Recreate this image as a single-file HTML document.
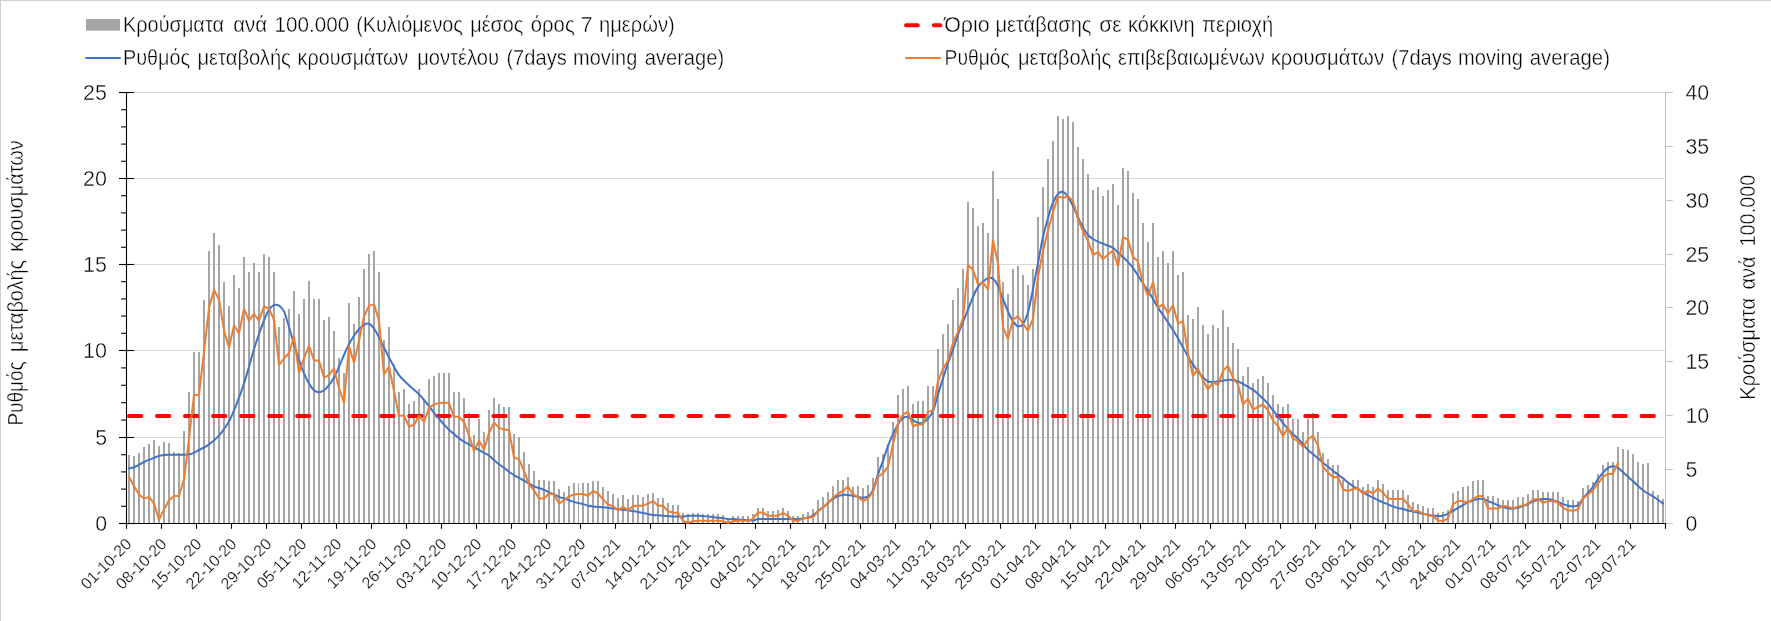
<!DOCTYPE html>
<html><head><meta charset="utf-8"><title>Chart</title>
<style>
html,body{margin:0;padding:0;background:#fff;}
body{width:1771px;height:621px;overflow:hidden;position:relative;font-family:"Liberation Sans",sans-serif;}
</style></head><body>
<svg width="1771" height="621" viewBox="0 0 1771 621" style="position:absolute;left:0;top:0;opacity:0.999;will-change:transform">
<defs>
<clipPath id="cl"><rect x="0" y="0" width="579" height="621"/></clipPath>
<clipPath id="cr"><rect x="579" y="0" width="1192" height="621"/></clipPath>
<g id="plot">
<line x1="126.5" y1="437.5" x2="1666.5" y2="437.5" stroke="#d9d9d9" stroke-width="1"/>
<line x1="126.5" y1="350.5" x2="1666.5" y2="350.5" stroke="#d9d9d9" stroke-width="1"/>
<line x1="126.5" y1="264.5" x2="1666.5" y2="264.5" stroke="#d9d9d9" stroke-width="1"/>
<line x1="126.5" y1="178.5" x2="1666.5" y2="178.5" stroke="#d9d9d9" stroke-width="1"/>
<line x1="126.5" y1="92.5" x2="1666.5" y2="92.5" stroke="#d9d9d9" stroke-width="1"/>
<g fill="#a5a5a5" shape-rendering="crispEdges">
<rect x="128" y="455" width="2" height="68"/>
<rect x="133" y="456" width="2" height="67"/>
<rect x="138" y="453" width="2" height="70"/>
<rect x="143" y="447" width="2" height="76"/>
<rect x="148" y="444" width="2" height="79"/>
<rect x="153" y="440" width="2" height="83"/>
<rect x="158" y="446" width="2" height="77"/>
<rect x="163" y="442" width="2" height="81"/>
<rect x="168" y="443" width="2" height="80"/>
<rect x="173" y="452" width="2" height="71"/>
<rect x="178" y="453" width="2" height="70"/>
<rect x="183" y="431" width="2" height="92"/>
<rect x="188" y="392" width="2" height="131"/>
<rect x="193" y="352" width="2" height="171"/>
<rect x="198" y="352" width="2" height="171"/>
<rect x="203" y="300" width="2" height="223"/>
<rect x="208" y="251" width="2" height="272"/>
<rect x="213" y="233" width="2" height="290"/>
<rect x="218" y="245" width="2" height="278"/>
<rect x="223" y="282" width="2" height="241"/>
<rect x="228" y="306" width="2" height="217"/>
<rect x="233" y="275" width="2" height="248"/>
<rect x="238" y="288" width="2" height="235"/>
<rect x="243" y="257" width="2" height="266"/>
<rect x="248" y="272" width="2" height="251"/>
<rect x="253" y="263" width="2" height="260"/>
<rect x="258" y="272" width="2" height="251"/>
<rect x="263" y="254" width="2" height="269"/>
<rect x="268" y="257" width="2" height="266"/>
<rect x="273" y="272" width="2" height="251"/>
<rect x="278" y="327" width="2" height="196"/>
<rect x="283" y="318" width="2" height="205"/>
<rect x="288" y="309" width="2" height="214"/>
<rect x="293" y="291" width="2" height="232"/>
<rect x="298" y="314" width="2" height="209"/>
<rect x="303" y="299" width="2" height="224"/>
<rect x="308" y="281" width="2" height="242"/>
<rect x="313" y="299" width="2" height="224"/>
<rect x="318" y="299" width="2" height="224"/>
<rect x="323" y="320" width="2" height="203"/>
<rect x="328" y="317" width="2" height="206"/>
<rect x="333" y="331" width="2" height="192"/>
<rect x="338" y="358" width="2" height="165"/>
<rect x="343" y="373" width="2" height="150"/>
<rect x="348" y="303" width="2" height="220"/>
<rect x="353" y="324" width="2" height="199"/>
<rect x="358" y="297" width="2" height="226"/>
<rect x="363" y="269" width="2" height="254"/>
<rect x="368" y="254" width="2" height="269"/>
<rect x="373" y="251" width="2" height="272"/>
<rect x="378" y="272" width="2" height="251"/>
<rect x="383" y="340" width="2" height="183"/>
<rect x="388" y="327" width="2" height="196"/>
<rect x="393" y="364" width="2" height="159"/>
<rect x="398" y="392" width="2" height="131"/>
<rect x="403" y="389" width="2" height="134"/>
<rect x="408" y="404" width="2" height="119"/>
<rect x="413" y="401" width="2" height="122"/>
<rect x="418" y="389" width="2" height="134"/>
<rect x="423" y="399" width="2" height="124"/>
<rect x="428" y="379" width="2" height="144"/>
<rect x="433" y="376" width="2" height="147"/>
<rect x="438" y="373" width="2" height="150"/>
<rect x="443" y="373" width="2" height="150"/>
<rect x="448" y="373" width="2" height="150"/>
<rect x="453" y="392" width="2" height="131"/>
<rect x="458" y="392" width="2" height="131"/>
<rect x="463" y="398" width="2" height="125"/>
<rect x="468" y="413" width="2" height="110"/>
<rect x="473" y="435" width="2" height="88"/>
<rect x="478" y="419" width="2" height="104"/>
<rect x="483" y="432" width="2" height="91"/>
<rect x="488" y="410" width="2" height="113"/>
<rect x="493" y="398" width="2" height="125"/>
<rect x="498" y="404" width="2" height="119"/>
<rect x="503" y="407" width="2" height="116"/>
<rect x="508" y="407" width="2" height="116"/>
<rect x="513" y="434" width="2" height="89"/>
<rect x="518" y="437" width="2" height="86"/>
<rect x="523" y="452" width="2" height="71"/>
<rect x="528" y="464" width="2" height="59"/>
<rect x="533" y="471" width="2" height="52"/>
<rect x="538" y="480" width="2" height="43"/>
<rect x="543" y="480" width="2" height="43"/>
<rect x="548" y="481" width="2" height="42"/>
<rect x="553" y="481" width="2" height="42"/>
<rect x="558" y="489" width="2" height="34"/>
<rect x="563" y="492" width="2" height="31"/>
<rect x="568" y="486" width="2" height="37"/>
<rect x="573" y="483" width="2" height="40"/>
<rect x="578" y="483" width="2" height="40"/>
<rect x="583" y="483" width="2" height="40"/>
<rect x="588" y="483" width="2" height="40"/>
<rect x="593" y="481" width="2" height="42"/>
<rect x="598" y="481" width="2" height="42"/>
<rect x="603" y="487" width="2" height="36"/>
<rect x="608" y="491" width="2" height="32"/>
<rect x="613" y="494" width="2" height="29"/>
<rect x="618" y="498" width="2" height="25"/>
<rect x="623" y="495" width="2" height="28"/>
<rect x="628" y="499" width="2" height="24"/>
<rect x="633" y="495" width="2" height="28"/>
<rect x="638" y="495" width="2" height="28"/>
<rect x="643" y="497" width="2" height="26"/>
<rect x="648" y="494" width="2" height="29"/>
<rect x="653" y="493" width="2" height="30"/>
<rect x="658" y="498" width="2" height="25"/>
<rect x="663" y="498" width="2" height="25"/>
<rect x="668" y="503" width="2" height="20"/>
<rect x="673" y="505" width="2" height="18"/>
<rect x="678" y="505" width="2" height="18"/>
<rect x="683" y="513" width="2" height="10"/>
<rect x="688" y="514" width="2" height="9"/>
<rect x="693" y="513" width="2" height="10"/>
<rect x="698" y="513" width="2" height="10"/>
<rect x="703" y="514" width="2" height="9"/>
<rect x="708" y="514" width="2" height="9"/>
<rect x="713" y="514" width="2" height="9"/>
<rect x="718" y="514" width="2" height="9"/>
<rect x="723" y="515" width="2" height="8"/>
<rect x="728" y="518" width="2" height="5"/>
<rect x="733" y="516" width="2" height="7"/>
<rect x="738" y="516" width="2" height="7"/>
<rect x="743" y="516" width="2" height="7"/>
<rect x="748" y="516" width="2" height="7"/>
<rect x="753" y="514" width="2" height="9"/>
<rect x="758" y="508" width="2" height="15"/>
<rect x="763" y="508" width="2" height="15"/>
<rect x="768" y="511" width="2" height="12"/>
<rect x="773" y="511" width="2" height="12"/>
<rect x="778" y="510" width="2" height="13"/>
<rect x="783" y="508" width="2" height="15"/>
<rect x="788" y="511" width="2" height="12"/>
<rect x="793" y="516" width="2" height="7"/>
<rect x="798" y="516" width="2" height="7"/>
<rect x="803" y="514" width="2" height="9"/>
<rect x="808" y="512" width="2" height="11"/>
<rect x="813" y="509" width="2" height="14"/>
<rect x="818" y="500" width="2" height="23"/>
<rect x="823" y="497" width="2" height="26"/>
<rect x="828" y="492" width="2" height="31"/>
<rect x="833" y="486" width="2" height="37"/>
<rect x="838" y="480" width="2" height="43"/>
<rect x="843" y="480" width="2" height="43"/>
<rect x="848" y="477" width="2" height="46"/>
<rect x="853" y="487" width="2" height="36"/>
<rect x="858" y="486" width="2" height="37"/>
<rect x="863" y="488" width="2" height="35"/>
<rect x="868" y="485" width="2" height="38"/>
<rect x="873" y="478" width="2" height="45"/>
<rect x="878" y="457" width="2" height="66"/>
<rect x="883" y="454" width="2" height="69"/>
<rect x="888" y="444" width="2" height="79"/>
<rect x="893" y="422" width="2" height="101"/>
<rect x="898" y="395" width="2" height="128"/>
<rect x="903" y="389" width="2" height="134"/>
<rect x="908" y="386" width="2" height="137"/>
<rect x="913" y="404" width="2" height="119"/>
<rect x="918" y="401" width="2" height="122"/>
<rect x="923" y="401" width="2" height="122"/>
<rect x="928" y="386" width="2" height="137"/>
<rect x="933" y="386" width="2" height="137"/>
<rect x="938" y="349" width="2" height="174"/>
<rect x="943" y="334" width="2" height="189"/>
<rect x="948" y="324" width="2" height="199"/>
<rect x="953" y="300" width="2" height="223"/>
<rect x="958" y="288" width="2" height="235"/>
<rect x="963" y="269" width="2" height="254"/>
<rect x="968" y="202" width="2" height="321"/>
<rect x="973" y="208" width="2" height="315"/>
<rect x="978" y="226" width="2" height="297"/>
<rect x="983" y="223" width="2" height="300"/>
<rect x="988" y="233" width="2" height="290"/>
<rect x="993" y="171" width="2" height="352"/>
<rect x="998" y="199" width="2" height="324"/>
<rect x="1003" y="282" width="2" height="241"/>
<rect x="1008" y="294" width="2" height="229"/>
<rect x="1013" y="269" width="2" height="254"/>
<rect x="1018" y="266" width="2" height="257"/>
<rect x="1023" y="275" width="2" height="248"/>
<rect x="1028" y="285" width="2" height="238"/>
<rect x="1033" y="269" width="2" height="254"/>
<rect x="1038" y="217" width="2" height="306"/>
<rect x="1043" y="187" width="2" height="336"/>
<rect x="1048" y="159" width="2" height="364"/>
<rect x="1053" y="141" width="2" height="382"/>
<rect x="1058" y="116" width="2" height="407"/>
<rect x="1063" y="119" width="2" height="404"/>
<rect x="1068" y="116" width="2" height="407"/>
<rect x="1073" y="122" width="2" height="401"/>
<rect x="1078" y="147" width="2" height="376"/>
<rect x="1083" y="159" width="2" height="364"/>
<rect x="1088" y="174" width="2" height="349"/>
<rect x="1093" y="190" width="2" height="333"/>
<rect x="1098" y="187" width="2" height="336"/>
<rect x="1103" y="196" width="2" height="327"/>
<rect x="1108" y="190" width="2" height="333"/>
<rect x="1113" y="184" width="2" height="339"/>
<rect x="1118" y="205" width="2" height="318"/>
<rect x="1123" y="168" width="2" height="355"/>
<rect x="1128" y="171" width="2" height="352"/>
<rect x="1133" y="193" width="2" height="330"/>
<rect x="1138" y="199" width="2" height="324"/>
<rect x="1143" y="223" width="2" height="300"/>
<rect x="1148" y="242" width="2" height="281"/>
<rect x="1153" y="223" width="2" height="300"/>
<rect x="1158" y="257" width="2" height="266"/>
<rect x="1163" y="251" width="2" height="272"/>
<rect x="1168" y="263" width="2" height="260"/>
<rect x="1173" y="251" width="2" height="272"/>
<rect x="1178" y="275" width="2" height="248"/>
<rect x="1183" y="272" width="2" height="251"/>
<rect x="1188" y="315" width="2" height="208"/>
<rect x="1193" y="319" width="2" height="204"/>
<rect x="1198" y="307" width="2" height="216"/>
<rect x="1203" y="325" width="2" height="198"/>
<rect x="1208" y="334" width="2" height="189"/>
<rect x="1213" y="325" width="2" height="198"/>
<rect x="1218" y="328" width="2" height="195"/>
<rect x="1223" y="310" width="2" height="213"/>
<rect x="1228" y="327" width="2" height="196"/>
<rect x="1233" y="343" width="2" height="180"/>
<rect x="1238" y="349" width="2" height="174"/>
<rect x="1243" y="376" width="2" height="147"/>
<rect x="1248" y="367" width="2" height="156"/>
<rect x="1253" y="383" width="2" height="140"/>
<rect x="1258" y="379" width="2" height="144"/>
<rect x="1263" y="376" width="2" height="147"/>
<rect x="1268" y="383" width="2" height="140"/>
<rect x="1273" y="395" width="2" height="128"/>
<rect x="1278" y="404" width="2" height="119"/>
<rect x="1283" y="407" width="2" height="116"/>
<rect x="1288" y="404" width="2" height="119"/>
<rect x="1293" y="419" width="2" height="104"/>
<rect x="1298" y="419" width="2" height="104"/>
<rect x="1303" y="432" width="2" height="91"/>
<rect x="1308" y="419" width="2" height="104"/>
<rect x="1313" y="413" width="2" height="110"/>
<rect x="1318" y="432" width="2" height="91"/>
<rect x="1323" y="453" width="2" height="70"/>
<rect x="1328" y="459" width="2" height="64"/>
<rect x="1333" y="465" width="2" height="58"/>
<rect x="1338" y="465" width="2" height="58"/>
<rect x="1343" y="480" width="2" height="43"/>
<rect x="1348" y="484" width="2" height="39"/>
<rect x="1353" y="480" width="2" height="43"/>
<rect x="1358" y="480" width="2" height="43"/>
<rect x="1363" y="487" width="2" height="36"/>
<rect x="1368" y="484" width="2" height="39"/>
<rect x="1373" y="487" width="2" height="36"/>
<rect x="1378" y="480" width="2" height="43"/>
<rect x="1383" y="484" width="2" height="39"/>
<rect x="1388" y="490" width="2" height="33"/>
<rect x="1393" y="490" width="2" height="33"/>
<rect x="1398" y="490" width="2" height="33"/>
<rect x="1403" y="490" width="2" height="33"/>
<rect x="1408" y="495" width="2" height="28"/>
<rect x="1413" y="502" width="2" height="21"/>
<rect x="1418" y="504" width="2" height="19"/>
<rect x="1423" y="506" width="2" height="17"/>
<rect x="1428" y="508" width="2" height="15"/>
<rect x="1433" y="508" width="2" height="15"/>
<rect x="1438" y="513" width="2" height="10"/>
<rect x="1443" y="512" width="2" height="11"/>
<rect x="1448" y="510" width="2" height="13"/>
<rect x="1453" y="493" width="2" height="30"/>
<rect x="1458" y="491" width="2" height="32"/>
<rect x="1463" y="487" width="2" height="36"/>
<rect x="1468" y="486" width="2" height="37"/>
<rect x="1473" y="481" width="2" height="42"/>
<rect x="1478" y="480" width="2" height="43"/>
<rect x="1483" y="480" width="2" height="43"/>
<rect x="1488" y="496" width="2" height="27"/>
<rect x="1493" y="496" width="2" height="27"/>
<rect x="1498" y="498" width="2" height="25"/>
<rect x="1503" y="500" width="2" height="23"/>
<rect x="1508" y="500" width="2" height="23"/>
<rect x="1513" y="500" width="2" height="23"/>
<rect x="1518" y="497" width="2" height="26"/>
<rect x="1523" y="497" width="2" height="26"/>
<rect x="1528" y="494" width="2" height="29"/>
<rect x="1533" y="490" width="2" height="33"/>
<rect x="1538" y="490" width="2" height="33"/>
<rect x="1543" y="492" width="2" height="31"/>
<rect x="1548" y="492" width="2" height="31"/>
<rect x="1553" y="492" width="2" height="31"/>
<rect x="1558" y="492" width="2" height="31"/>
<rect x="1563" y="497" width="2" height="26"/>
<rect x="1568" y="500" width="2" height="23"/>
<rect x="1573" y="500" width="2" height="23"/>
<rect x="1578" y="501" width="2" height="22"/>
<rect x="1583" y="488" width="2" height="35"/>
<rect x="1588" y="485" width="2" height="38"/>
<rect x="1593" y="482" width="2" height="41"/>
<rect x="1598" y="474" width="2" height="49"/>
<rect x="1603" y="465" width="2" height="58"/>
<rect x="1608" y="462" width="2" height="61"/>
<rect x="1613" y="462" width="2" height="61"/>
<rect x="1618" y="447" width="2" height="76"/>
<rect x="1623" y="449" width="2" height="74"/>
<rect x="1628" y="450" width="2" height="73"/>
<rect x="1633" y="454" width="2" height="69"/>
<rect x="1638" y="462" width="2" height="61"/>
<rect x="1643" y="464" width="2" height="59"/>
<rect x="1648" y="463" width="2" height="60"/>
<rect x="1653" y="491" width="2" height="32"/>
<rect x="1658" y="495" width="2" height="28"/>
<rect x="1663" y="499" width="2" height="24"/>
</g>
<line x1="1666.5" y1="92.5" x2="1666.5" y2="523.5" stroke="#bfbfbf" stroke-width="1"/>
<line x1="1666.5" y1="523.5" x2="1673.8" y2="523.5" stroke="#bfbfbf" stroke-width="1"/>
<line x1="1666.5" y1="469.5" x2="1673.8" y2="469.5" stroke="#bfbfbf" stroke-width="1"/>
<line x1="1666.5" y1="415.5" x2="1673.8" y2="415.5" stroke="#bfbfbf" stroke-width="1"/>
<line x1="1666.5" y1="361.5" x2="1673.8" y2="361.5" stroke="#bfbfbf" stroke-width="1"/>
<line x1="1666.5" y1="307.5" x2="1673.8" y2="307.5" stroke="#bfbfbf" stroke-width="1"/>
<line x1="1666.5" y1="254.5" x2="1673.8" y2="254.5" stroke="#bfbfbf" stroke-width="1"/>
<line x1="1666.5" y1="200.5" x2="1673.8" y2="200.5" stroke="#bfbfbf" stroke-width="1"/>
<line x1="1666.5" y1="146.5" x2="1673.8" y2="146.5" stroke="#bfbfbf" stroke-width="1"/>
<line x1="1666.5" y1="92.5" x2="1673.8" y2="92.5" stroke="#bfbfbf" stroke-width="1"/>
<line x1="126.5" y1="92.0" x2="126.5" y2="524.0" stroke="#000" stroke-width="1.1"/>
<line x1="119.0" y1="523.50" x2="134.1" y2="523.50" stroke="#000" stroke-width="1.1"/>
<line x1="121.1" y1="506.30" x2="126.5" y2="506.30" stroke="#000" stroke-width="1.1"/>
<line x1="121.1" y1="489.10" x2="126.5" y2="489.10" stroke="#000" stroke-width="1.1"/>
<line x1="121.1" y1="471.90" x2="126.5" y2="471.90" stroke="#000" stroke-width="1.1"/>
<line x1="121.1" y1="454.70" x2="126.5" y2="454.70" stroke="#000" stroke-width="1.1"/>
<line x1="119.0" y1="437.50" x2="134.1" y2="437.50" stroke="#000" stroke-width="1.1"/>
<line x1="121.1" y1="420.10" x2="126.5" y2="420.10" stroke="#000" stroke-width="1.1"/>
<line x1="121.1" y1="402.70" x2="126.5" y2="402.70" stroke="#000" stroke-width="1.1"/>
<line x1="121.1" y1="385.30" x2="126.5" y2="385.30" stroke="#000" stroke-width="1.1"/>
<line x1="121.1" y1="367.90" x2="126.5" y2="367.90" stroke="#000" stroke-width="1.1"/>
<line x1="119.0" y1="350.50" x2="134.1" y2="350.50" stroke="#000" stroke-width="1.1"/>
<line x1="121.1" y1="333.30" x2="126.5" y2="333.30" stroke="#000" stroke-width="1.1"/>
<line x1="121.1" y1="316.10" x2="126.5" y2="316.10" stroke="#000" stroke-width="1.1"/>
<line x1="121.1" y1="298.90" x2="126.5" y2="298.90" stroke="#000" stroke-width="1.1"/>
<line x1="121.1" y1="281.70" x2="126.5" y2="281.70" stroke="#000" stroke-width="1.1"/>
<line x1="119.0" y1="264.50" x2="134.1" y2="264.50" stroke="#000" stroke-width="1.1"/>
<line x1="121.1" y1="247.30" x2="126.5" y2="247.30" stroke="#000" stroke-width="1.1"/>
<line x1="121.1" y1="230.10" x2="126.5" y2="230.10" stroke="#000" stroke-width="1.1"/>
<line x1="121.1" y1="212.90" x2="126.5" y2="212.90" stroke="#000" stroke-width="1.1"/>
<line x1="121.1" y1="195.70" x2="126.5" y2="195.70" stroke="#000" stroke-width="1.1"/>
<line x1="119.0" y1="178.50" x2="134.1" y2="178.50" stroke="#000" stroke-width="1.1"/>
<line x1="121.1" y1="161.30" x2="126.5" y2="161.30" stroke="#000" stroke-width="1.1"/>
<line x1="121.1" y1="144.10" x2="126.5" y2="144.10" stroke="#000" stroke-width="1.1"/>
<line x1="121.1" y1="126.90" x2="126.5" y2="126.90" stroke="#000" stroke-width="1.1"/>
<line x1="121.1" y1="109.70" x2="126.5" y2="109.70" stroke="#000" stroke-width="1.1"/>
<line x1="119.0" y1="92.50" x2="134.1" y2="92.50" stroke="#000" stroke-width="1.1"/>
<line x1="126.5" y1="523.5" x2="1666.5" y2="523.5" stroke="#000" stroke-width="1.1"/>
<line x1="126.50" y1="523.5" x2="126.50" y2="528.8" stroke="#000" stroke-width="1.1"/>
<line x1="161.50" y1="523.5" x2="161.50" y2="528.8" stroke="#000" stroke-width="1.1"/>
<line x1="196.50" y1="523.5" x2="196.50" y2="528.8" stroke="#000" stroke-width="1.1"/>
<line x1="231.50" y1="523.5" x2="231.50" y2="528.8" stroke="#000" stroke-width="1.1"/>
<line x1="266.50" y1="523.5" x2="266.50" y2="528.8" stroke="#000" stroke-width="1.1"/>
<line x1="301.50" y1="523.5" x2="301.50" y2="528.8" stroke="#000" stroke-width="1.1"/>
<line x1="336.50" y1="523.5" x2="336.50" y2="528.8" stroke="#000" stroke-width="1.1"/>
<line x1="371.50" y1="523.5" x2="371.50" y2="528.8" stroke="#000" stroke-width="1.1"/>
<line x1="406.50" y1="523.5" x2="406.50" y2="528.8" stroke="#000" stroke-width="1.1"/>
<line x1="441.50" y1="523.5" x2="441.50" y2="528.8" stroke="#000" stroke-width="1.1"/>
<line x1="476.50" y1="523.5" x2="476.50" y2="528.8" stroke="#000" stroke-width="1.1"/>
<line x1="511.50" y1="523.5" x2="511.50" y2="528.8" stroke="#000" stroke-width="1.1"/>
<line x1="546.50" y1="523.5" x2="546.50" y2="528.8" stroke="#000" stroke-width="1.1"/>
<line x1="581.50" y1="523.5" x2="581.50" y2="528.8" stroke="#000" stroke-width="1.1"/>
<line x1="616.50" y1="523.5" x2="616.50" y2="528.8" stroke="#000" stroke-width="1.1"/>
<line x1="651.50" y1="523.5" x2="651.50" y2="528.8" stroke="#000" stroke-width="1.1"/>
<line x1="686.50" y1="523.5" x2="686.50" y2="528.8" stroke="#000" stroke-width="1.1"/>
<line x1="721.50" y1="523.5" x2="721.50" y2="528.8" stroke="#000" stroke-width="1.1"/>
<line x1="756.50" y1="523.5" x2="756.50" y2="528.8" stroke="#000" stroke-width="1.1"/>
<line x1="791.50" y1="523.5" x2="791.50" y2="528.8" stroke="#000" stroke-width="1.1"/>
<line x1="826.50" y1="523.5" x2="826.50" y2="528.8" stroke="#000" stroke-width="1.1"/>
<line x1="861.50" y1="523.5" x2="861.50" y2="528.8" stroke="#000" stroke-width="1.1"/>
<line x1="896.50" y1="523.5" x2="896.50" y2="528.8" stroke="#000" stroke-width="1.1"/>
<line x1="931.50" y1="523.5" x2="931.50" y2="528.8" stroke="#000" stroke-width="1.1"/>
<line x1="966.50" y1="523.5" x2="966.50" y2="528.8" stroke="#000" stroke-width="1.1"/>
<line x1="1001.50" y1="523.5" x2="1001.50" y2="528.8" stroke="#000" stroke-width="1.1"/>
<line x1="1036.50" y1="523.5" x2="1036.50" y2="528.8" stroke="#000" stroke-width="1.1"/>
<line x1="1071.50" y1="523.5" x2="1071.50" y2="528.8" stroke="#000" stroke-width="1.1"/>
<line x1="1106.50" y1="523.5" x2="1106.50" y2="528.8" stroke="#000" stroke-width="1.1"/>
<line x1="1141.50" y1="523.5" x2="1141.50" y2="528.8" stroke="#000" stroke-width="1.1"/>
<line x1="1176.50" y1="523.5" x2="1176.50" y2="528.8" stroke="#000" stroke-width="1.1"/>
<line x1="1211.50" y1="523.5" x2="1211.50" y2="528.8" stroke="#000" stroke-width="1.1"/>
<line x1="1246.50" y1="523.5" x2="1246.50" y2="528.8" stroke="#000" stroke-width="1.1"/>
<line x1="1281.50" y1="523.5" x2="1281.50" y2="528.8" stroke="#000" stroke-width="1.1"/>
<line x1="1316.50" y1="523.5" x2="1316.50" y2="528.8" stroke="#000" stroke-width="1.1"/>
<line x1="1351.50" y1="523.5" x2="1351.50" y2="528.8" stroke="#000" stroke-width="1.1"/>
<line x1="1386.50" y1="523.5" x2="1386.50" y2="528.8" stroke="#000" stroke-width="1.1"/>
<line x1="1421.50" y1="523.5" x2="1421.50" y2="528.8" stroke="#000" stroke-width="1.1"/>
<line x1="1456.50" y1="523.5" x2="1456.50" y2="528.8" stroke="#000" stroke-width="1.1"/>
<line x1="1491.50" y1="523.5" x2="1491.50" y2="528.8" stroke="#000" stroke-width="1.1"/>
<line x1="1526.50" y1="523.5" x2="1526.50" y2="528.8" stroke="#000" stroke-width="1.1"/>
<line x1="1561.50" y1="523.5" x2="1561.50" y2="528.8" stroke="#000" stroke-width="1.1"/>
<line x1="1596.50" y1="523.5" x2="1596.50" y2="528.8" stroke="#000" stroke-width="1.1"/>
<line x1="1631.50" y1="523.5" x2="1631.50" y2="528.8" stroke="#000" stroke-width="1.1"/>
<line x1="1666.50" y1="523.5" x2="1666.50" y2="528.8" stroke="#000" stroke-width="1.1"/>
<line x1="129.00" y1="416" x2="1664.00" y2="416" stroke="#ff0000" stroke-width="4.05" stroke-linecap="round" stroke-dasharray="12.25 15.78"/>
<path d="M129.0,468.4 C129.8,468.2 132.3,467.8 134.0,467.2 C135.7,466.6 137.3,465.8 139.0,464.9 C140.7,464.0 142.3,462.9 144.0,462.0 C145.7,461.1 147.3,460.5 149.0,459.8 C150.7,459.1 152.3,458.5 154.0,457.9 C155.7,457.2 157.3,456.4 159.0,455.9 C160.7,455.4 162.3,455.2 164.0,455.0 C165.7,454.8 167.3,454.8 169.0,454.8 C170.7,454.8 172.3,454.8 174.0,454.8 C175.7,454.8 177.3,454.8 179.0,454.8 C180.7,454.8 182.3,454.9 184.0,454.8 C185.7,454.7 187.3,454.6 189.0,454.3 C190.7,454.0 192.3,453.5 194.0,452.8 C195.7,452.1 197.3,450.9 199.0,450.0 C200.7,449.1 202.3,448.4 204.0,447.5 C205.7,446.6 207.3,445.6 209.0,444.4 C210.7,443.2 212.3,441.8 214.0,440.4 C215.7,438.9 217.3,437.6 219.0,435.7 C220.7,433.8 222.3,431.4 224.0,429.0 C225.7,426.6 227.3,424.6 229.0,421.5 C230.7,418.4 232.3,414.3 234.0,410.3 C235.7,406.3 237.3,402.2 239.0,397.7 C240.7,393.2 242.3,388.7 244.0,383.5 C245.7,378.3 247.3,372.4 249.0,366.7 C250.7,361.0 252.3,354.6 254.0,349.1 C255.7,343.7 257.3,338.8 259.0,334.0 C260.7,329.2 262.3,324.5 264.0,320.5 C265.7,316.5 267.3,312.4 269.0,309.8 C270.7,307.2 272.3,305.8 274.0,305.1 C275.7,304.4 277.3,304.6 279.0,305.6 C280.7,306.7 282.3,307.8 284.0,311.4 C285.7,315.0 287.3,321.6 289.0,327.0 C290.7,332.4 292.3,338.6 294.0,344.1 C295.7,349.6 297.3,355.1 299.0,360.0 C300.7,364.9 302.3,369.5 304.0,373.4 C305.7,377.3 307.3,380.7 309.0,383.5 C310.7,386.3 312.3,388.8 314.0,390.2 C315.7,391.6 317.3,392.2 319.0,392.2 C320.7,392.2 322.3,391.4 324.0,390.2 C325.7,389.0 327.3,387.2 329.0,385.1 C330.7,383.0 332.3,380.7 334.0,377.6 C335.7,374.5 337.3,370.5 339.0,366.7 C340.7,362.9 342.3,358.8 344.0,355.0 C345.7,351.2 347.3,347.3 349.0,344.1 C350.7,340.9 352.3,338.2 354.0,335.7 C355.7,333.2 357.3,331.1 359.0,329.3 C360.7,327.5 362.3,325.7 364.0,324.8 C365.7,323.9 367.3,323.2 369.0,323.8 C370.7,324.4 372.3,326.2 374.0,328.5 C375.7,330.8 377.3,334.2 379.0,337.4 C380.7,340.6 382.3,344.1 384.0,347.5 C385.7,350.9 387.3,354.3 389.0,357.5 C390.7,360.7 392.3,363.8 394.0,366.7 C395.7,369.6 397.3,372.8 399.0,375.1 C400.7,377.4 402.3,378.8 404.0,380.5 C405.7,382.2 407.3,383.8 409.0,385.3 C410.7,386.9 412.3,388.3 414.0,389.8 C415.7,391.3 417.3,392.5 419.0,394.2 C420.7,395.9 422.3,398.0 424.0,400.0 C425.7,402.0 427.3,404.0 429.0,406.1 C430.7,408.2 432.3,410.7 434.0,412.8 C435.7,414.9 437.3,416.8 439.0,418.7 C440.7,420.6 442.3,422.7 444.0,424.5 C445.7,426.3 447.3,428.1 449.0,429.7 C450.7,431.3 452.3,432.7 454.0,434.1 C455.7,435.5 457.3,437.0 459.0,438.3 C460.7,439.6 462.3,440.7 464.0,441.7 C465.7,442.7 467.3,443.4 469.0,444.3 C470.7,445.2 472.3,446.4 474.0,447.3 C475.7,448.2 477.3,449.1 479.0,450.0 C480.7,450.9 482.3,451.9 484.0,452.8 C485.7,453.7 487.3,454.3 489.0,455.5 C490.7,456.7 492.3,458.6 494.0,460.0 C495.7,461.4 497.3,462.9 499.0,464.2 C500.7,465.5 502.3,466.6 504.0,467.9 C505.7,469.1 507.3,470.5 509.0,471.7 C510.7,472.9 512.3,474.1 514.0,475.1 C515.7,476.1 517.3,477.0 519.0,477.9 C520.7,478.8 522.3,479.7 524.0,480.6 C525.7,481.5 527.3,482.6 529.0,483.5 C530.7,484.4 532.3,485.6 534.0,486.3 C535.7,487.1 537.3,487.4 539.0,488.0 C540.7,488.6 542.3,489.1 544.0,489.8 C545.7,490.5 547.3,491.5 549.0,492.3 C550.7,493.1 552.3,493.6 554.0,494.4 C555.7,495.2 557.3,496.2 559.0,496.9 C560.7,497.6 562.3,497.9 564.0,498.5 C565.7,499.1 567.3,499.6 569.0,500.2 C570.7,500.8 572.3,501.4 574.0,501.9 C575.7,502.4 577.3,502.7 579.0,503.1 C580.7,503.5 582.3,503.7 584.0,504.1 C585.7,504.5 587.3,505.2 589.0,505.6 C590.7,506.0 592.3,506.4 594.0,506.6 C595.7,506.8 597.3,506.8 599.0,506.9 C600.7,507.0 602.3,507.0 604.0,507.2 C605.7,507.4 607.3,507.6 609.0,507.8 C610.7,508.0 612.3,508.4 614.0,508.6 C615.7,508.8 617.3,508.9 619.0,509.1 C620.7,509.3 622.3,509.6 624.0,509.8 C625.7,510.0 627.3,510.1 629.0,510.3 C630.7,510.5 632.3,510.8 634.0,511.1 C635.7,511.4 637.3,511.8 639.0,512.1 C640.7,512.4 642.3,512.8 644.0,513.1 C645.7,513.4 647.3,513.8 649.0,514.1 C650.7,514.4 652.3,514.8 654.0,515.0 C655.7,515.2 657.3,515.2 659.0,515.3 C660.7,515.4 662.3,515.7 664.0,515.8 C665.7,515.9 667.3,516.0 669.0,516.1 C670.7,516.2 672.3,516.4 674.0,516.5 C675.7,516.6 677.3,516.6 679.0,516.6 C680.7,516.6 682.3,516.7 684.0,516.6 C685.7,516.5 687.3,515.9 689.0,515.8 C690.7,515.7 692.3,515.8 694.0,515.8 C695.7,515.8 697.3,515.8 699.0,515.8 C700.7,515.8 702.3,515.9 704.0,516.0 C705.7,516.1 707.3,516.4 709.0,516.6 C710.7,516.8 712.3,516.9 714.0,517.1 C715.7,517.3 717.3,517.6 719.0,517.8 C720.7,518.0 722.3,517.9 724.0,518.1 C725.7,518.3 727.3,518.9 729.0,519.1 C730.7,519.3 732.3,519.0 734.0,519.1 C735.7,519.2 737.3,519.4 739.0,519.5 C740.7,519.6 742.3,519.7 744.0,519.8 C745.7,519.9 747.3,520.2 749.0,520.3 C750.7,520.4 752.3,520.5 754.0,520.3 C755.7,520.1 757.3,519.3 759.0,519.1 C760.7,518.9 762.3,519.0 764.0,519.0 C765.7,519.0 767.3,519.0 769.0,519.0 C770.7,519.0 772.3,519.0 774.0,519.0 C775.7,519.0 777.3,519.0 779.0,519.0 C780.7,519.0 782.3,519.0 784.0,519.0 C785.7,519.0 787.3,519.0 789.0,519.0 C790.7,519.0 792.3,519.1 794.0,519.1 C795.7,519.1 797.3,519.2 799.0,519.1 C800.7,519.0 802.3,518.9 804.0,518.6 C805.7,518.3 807.3,518.0 809.0,517.5 C810.7,517.0 812.3,516.4 814.0,515.3 C815.7,514.2 817.3,512.5 819.0,511.1 C820.7,509.8 822.3,508.5 824.0,507.2 C825.7,505.9 827.3,504.5 829.0,503.1 C830.7,501.7 832.3,500.2 834.0,499.0 C835.7,497.8 837.3,496.7 839.0,496.0 C840.7,495.3 842.3,495.1 844.0,494.9 C845.7,494.7 847.3,494.8 849.0,494.9 C850.7,495.0 852.3,495.4 854.0,495.7 C855.7,496.0 857.3,496.6 859.0,496.9 C860.7,497.2 862.3,497.8 864.0,497.7 C865.7,497.6 867.3,497.6 869.0,496.4 C870.7,495.1 872.3,493.9 874.0,490.2 C875.7,486.5 877.3,479.2 879.0,474.3 C880.7,469.4 882.3,465.6 884.0,460.9 C885.7,456.1 887.3,450.3 889.0,445.8 C890.7,441.3 892.3,437.7 894.0,434.1 C895.7,430.5 897.3,427.0 899.0,424.3 C900.7,421.6 902.3,419.3 904.0,418.1 C905.7,416.9 907.3,416.6 909.0,417.0 C910.7,417.4 912.3,419.3 914.0,420.3 C915.7,421.3 917.3,422.4 919.0,422.8 C920.7,423.2 922.3,423.5 924.0,422.8 C925.7,422.1 927.3,420.6 929.0,418.6 C930.7,416.7 932.3,415.1 934.0,411.1 C935.7,407.1 937.3,399.8 939.0,394.4 C940.7,388.9 942.3,383.6 944.0,378.4 C945.7,373.2 947.3,367.8 949.0,363.0 C950.7,358.2 952.3,354.1 954.0,349.4 C955.7,344.7 957.3,339.2 959.0,334.6 C960.7,330.0 962.3,326.2 964.0,322.0 C965.7,317.8 967.3,313.7 969.0,309.5 C970.7,305.3 972.3,300.7 974.0,296.9 C975.7,293.1 977.3,289.4 979.0,286.9 C980.7,284.4 982.3,283.3 984.0,281.8 C985.7,280.3 987.3,278.6 989.0,278.1 C990.7,277.6 992.3,277.5 994.0,278.8 C995.7,280.1 997.3,282.6 999.0,286.0 C1000.7,289.4 1002.3,294.8 1004.0,299.0 C1005.7,303.2 1007.3,307.8 1009.0,311.5 C1010.7,315.2 1012.3,318.9 1014.0,321.4 C1015.7,323.8 1017.3,325.8 1019.0,326.2 C1020.7,326.6 1022.3,326.4 1024.0,324.0 C1025.7,321.6 1027.3,317.8 1029.0,312.0 C1030.7,306.2 1032.3,297.2 1034.0,289.0 C1035.7,280.8 1037.3,271.7 1039.0,263.0 C1040.7,254.3 1042.3,244.5 1044.0,237.0 C1045.7,229.5 1047.3,223.8 1049.0,218.0 C1050.7,212.2 1052.3,206.5 1054.0,202.5 C1055.7,198.5 1057.3,195.8 1059.0,194.0 C1060.7,192.2 1062.3,191.5 1064.0,192.0 C1065.7,192.5 1067.3,194.5 1069.0,196.8 C1070.7,199.1 1072.3,202.6 1074.0,206.0 C1075.7,209.4 1077.3,213.7 1079.0,217.3 C1080.7,220.9 1082.3,224.5 1084.0,227.4 C1085.7,230.3 1087.3,233.1 1089.0,235.0 C1090.7,236.9 1092.3,237.9 1094.0,239.0 C1095.7,240.1 1097.3,240.8 1099.0,241.6 C1100.7,242.4 1102.3,243.0 1104.0,243.7 C1105.7,244.4 1107.3,245.0 1109.0,245.7 C1110.7,246.4 1112.3,246.7 1114.0,247.8 C1115.7,248.9 1117.3,250.8 1119.0,252.4 C1120.7,254.0 1122.3,255.5 1124.0,257.1 C1125.7,258.7 1127.3,260.3 1129.0,262.1 C1130.7,263.9 1132.3,265.7 1134.0,267.9 C1135.7,270.1 1137.3,272.9 1139.0,275.5 C1140.7,278.1 1142.3,280.7 1144.0,283.3 C1145.7,285.9 1147.3,288.3 1149.0,290.9 C1150.7,293.5 1152.3,296.0 1154.0,298.8 C1155.7,301.6 1157.3,305.0 1159.0,307.7 C1160.7,310.4 1162.3,312.4 1164.0,314.9 C1165.7,317.3 1167.3,319.9 1169.0,322.4 C1170.7,324.9 1172.3,327.3 1174.0,330.0 C1175.7,332.7 1177.3,335.6 1179.0,338.5 C1180.7,341.4 1182.3,344.5 1184.0,347.5 C1185.7,350.5 1187.3,353.7 1189.0,356.5 C1190.7,359.3 1192.3,362.0 1194.0,364.5 C1195.7,367.0 1197.3,369.1 1199.0,371.3 C1200.7,373.5 1202.3,375.8 1204.0,377.5 C1205.7,379.2 1207.3,380.8 1209.0,381.5 C1210.7,382.2 1212.3,381.9 1214.0,381.9 C1215.7,381.9 1217.3,381.7 1219.0,381.5 C1220.7,381.3 1222.3,380.8 1224.0,380.5 C1225.7,380.2 1227.3,380.0 1229.0,379.9 C1230.7,379.8 1232.3,379.6 1234.0,379.9 C1235.7,380.2 1237.3,380.8 1239.0,381.5 C1240.7,382.2 1242.3,383.0 1244.0,383.9 C1245.7,384.8 1247.3,385.6 1249.0,386.6 C1250.7,387.6 1252.3,388.7 1254.0,389.9 C1255.7,391.1 1257.3,392.4 1259.0,393.9 C1260.7,395.3 1262.3,397.0 1264.0,398.6 C1265.7,400.2 1267.3,401.7 1269.0,403.7 C1270.7,405.7 1272.3,408.3 1274.0,410.4 C1275.7,412.5 1277.3,414.1 1279.0,416.2 C1280.7,418.3 1282.3,420.9 1284.0,423.0 C1285.7,425.1 1287.3,427.1 1289.0,429.0 C1290.7,430.9 1292.3,432.6 1294.0,434.2 C1295.7,435.8 1297.3,437.1 1299.0,438.8 C1300.7,440.5 1302.3,442.3 1304.0,444.2 C1305.7,446.1 1307.3,448.3 1309.0,450.0 C1310.7,451.7 1312.3,452.8 1314.0,454.2 C1315.7,455.6 1317.3,456.9 1319.0,458.3 C1320.7,459.8 1322.3,461.5 1324.0,462.9 C1325.7,464.3 1327.3,465.4 1329.0,466.7 C1330.7,468.0 1332.3,469.6 1334.0,470.9 C1335.7,472.2 1337.3,473.4 1339.0,474.6 C1340.7,475.9 1342.3,477.1 1344.0,478.4 C1345.7,479.7 1347.3,481.3 1349.0,482.6 C1350.7,483.9 1352.3,484.9 1354.0,486.0 C1355.7,487.1 1357.3,487.9 1359.0,489.0 C1360.7,490.1 1362.3,491.3 1364.0,492.3 C1365.7,493.3 1367.3,494.3 1369.0,495.2 C1370.7,496.1 1372.3,496.9 1374.0,497.7 C1375.7,498.5 1377.3,499.4 1379.0,500.2 C1380.7,501.0 1382.3,501.7 1384.0,502.4 C1385.7,503.1 1387.3,503.7 1389.0,504.4 C1390.7,505.1 1392.3,505.8 1394.0,506.4 C1395.7,507.0 1397.3,507.7 1399.0,508.1 C1400.7,508.5 1402.3,508.6 1404.0,509.0 C1405.7,509.4 1407.3,510.1 1409.0,510.5 C1410.7,510.9 1412.3,511.2 1414.0,511.6 C1415.7,512.0 1417.3,512.2 1419.0,512.6 C1420.7,513.0 1422.3,513.3 1424.0,513.7 C1425.7,514.1 1427.3,514.5 1429.0,514.8 C1430.7,515.1 1432.3,515.4 1434.0,515.6 C1435.7,515.8 1437.3,516.1 1439.0,516.1 C1440.7,516.1 1442.3,516.2 1444.0,515.8 C1445.7,515.4 1447.3,514.4 1449.0,513.6 C1450.7,512.8 1452.3,511.8 1454.0,510.8 C1455.7,509.8 1457.3,508.7 1459.0,507.8 C1460.7,506.9 1462.3,506.1 1464.0,505.2 C1465.7,504.3 1467.3,503.2 1469.0,502.4 C1470.7,501.6 1472.3,500.8 1474.0,500.2 C1475.7,499.6 1477.3,499.1 1479.0,498.9 C1480.7,498.7 1482.3,498.5 1484.0,498.9 C1485.7,499.3 1487.3,500.4 1489.0,501.1 C1490.7,501.8 1492.3,502.4 1494.0,503.1 C1495.7,503.8 1497.3,504.6 1499.0,505.2 C1500.7,505.8 1502.3,506.4 1504.0,506.9 C1505.7,507.4 1507.3,508.0 1509.0,508.3 C1510.7,508.6 1512.3,508.7 1514.0,508.6 C1515.7,508.5 1517.3,508.2 1519.0,507.8 C1520.7,507.4 1522.3,506.7 1524.0,506.1 C1525.7,505.5 1527.3,504.9 1529.0,504.1 C1530.7,503.3 1532.3,502.1 1534.0,501.4 C1535.7,500.7 1537.3,500.1 1539.0,499.7 C1540.7,499.3 1542.3,499.1 1544.0,499.0 C1545.7,498.9 1547.3,498.8 1549.0,499.0 C1550.7,499.2 1552.3,499.7 1554.0,500.2 C1555.7,500.7 1557.3,501.2 1559.0,501.9 C1560.7,502.5 1562.3,503.5 1564.0,504.1 C1565.7,504.7 1567.3,505.3 1569.0,505.7 C1570.7,506.1 1572.3,506.5 1574.0,506.4 C1575.7,506.3 1577.3,506.5 1579.0,505.2 C1580.7,503.9 1582.3,500.6 1584.0,498.5 C1585.7,496.4 1587.3,494.6 1589.0,492.7 C1590.7,490.8 1592.3,489.0 1594.0,486.8 C1595.7,484.6 1597.3,481.7 1599.0,479.3 C1600.7,476.9 1602.3,474.5 1604.0,472.6 C1605.7,470.7 1607.3,469.0 1609.0,467.9 C1610.7,466.8 1612.3,466.2 1614.0,466.2 C1615.7,466.2 1617.3,466.9 1619.0,467.9 C1620.7,468.9 1622.3,470.7 1624.0,472.2 C1625.7,473.7 1627.3,475.3 1629.0,476.8 C1630.7,478.3 1632.3,479.5 1634.0,481.0 C1635.7,482.5 1637.3,484.5 1639.0,486.0 C1640.7,487.5 1642.3,488.9 1644.0,490.2 C1645.7,491.4 1647.3,492.5 1649.0,493.5 C1650.7,494.5 1652.3,495.4 1654.0,496.4 C1655.7,497.4 1657.3,498.5 1659.0,499.7 C1660.7,500.9 1663.2,503.0 1664.0,503.6" fill="none" stroke="#4472c4" stroke-width="2" stroke-linejoin="round" stroke-linecap="round"/>
<path d="M129.0,476.8 L134.0,486.0 L139.0,494.4 L144.0,498.6 L149.0,496.9 L154.0,503.6 L159.0,519.8 L164.0,509.4 L169.0,500.2 L174.0,496.0 L179.0,496.0 L184.0,479.3 L189.0,439.0 L194.0,394.9 L199.0,394.9 L204.0,351.6 L209.0,308.1 L214.0,289.7 L219.0,299.7 L224.0,330.3 L229.0,347.5 L234.0,325.2 L239.0,333.2 L244.0,308.9 L249.0,320.6 L254.0,313.9 L259.0,320.6 L264.0,306.4 L269.0,308.9 L274.0,319.8 L279.0,365.0 L284.0,358.3 L289.0,353.3 L294.0,336.6 L299.0,372.6 L304.0,358.3 L309.0,345.8 L314.0,360.5 L319.0,360.5 L324.0,377.6 L329.0,375.1 L334.0,368.4 L339.0,388.5 L344.0,402.7 L349.0,346.6 L354.0,362.5 L359.0,340.8 L364.0,316.5 L369.0,305.6 L374.0,304.4 L379.0,320.6 L384.0,374.3 L389.0,366.7 L394.0,391.0 L399.0,416.1 L404.0,415.3 L409.0,426.5 L414.0,425.0 L419.0,415.7 L424.0,422.0 L429.0,407.8 L434.0,404.4 L439.0,403.1 L444.0,402.8 L449.0,402.8 L454.0,416.7 L459.0,416.7 L464.0,422.0 L469.0,435.2 L474.0,451.0 L479.0,440.6 L484.0,449.8 L489.0,433.0 L494.0,422.8 L499.0,427.6 L504.0,429.7 L509.0,429.7 L514.0,457.5 L519.0,459.2 L524.0,470.9 L529.0,484.3 L534.0,490.2 L539.0,498.5 L544.0,498.5 L549.0,493.5 L554.0,494.4 L559.0,503.6 L564.0,500.2 L569.0,496.4 L574.0,494.4 L579.0,494.0 L584.0,494.0 L589.0,495.7 L594.0,491.0 L599.0,493.5 L604.0,499.4 L609.0,504.4 L614.0,506.4 L619.0,510.3 L624.0,506.9 L629.0,510.3 L634.0,506.1 L639.0,505.7 L644.0,505.7 L649.0,503.6 L654.0,501.1 L659.0,505.7 L664.0,505.7 L669.0,511.1 L674.0,512.8 L679.0,512.8 L684.0,521.2 L689.0,522.8 L694.0,521.2 L699.0,520.8 L704.0,520.8 L709.0,520.8 L714.0,520.8 L719.0,520.8 L724.0,521.2 L729.0,522.8 L734.0,521.2 L739.0,520.8 L744.0,520.8 L749.0,520.8 L754.0,518.6 L759.0,512.4 L764.0,512.4 L769.0,515.8 L774.0,515.8 L779.0,515.8 L784.0,512.8 L789.0,515.8 L794.0,520.8 L799.0,520.8 L804.0,518.6 L809.0,517.8 L814.0,517.0 L819.0,511.1 L824.0,507.2 L829.0,502.7 L834.0,497.7 L839.0,493.5 L844.0,491.0 L849.0,486.5 L854.0,494.4 L859.0,496.9 L864.0,501.1 L869.0,498.5 L874.0,491.8 L879.0,476.8 L884.0,473.4 L889.0,466.7 L894.0,444.1 L899.0,423.5 L904.0,414.5 L909.0,411.9 L914.0,426.2 L919.0,424.5 L924.0,424.5 L929.0,411.9 L934.0,410.3 L939.0,381.0 L944.0,369.2 L949.0,360.0 L954.0,342.7 L959.0,331.8 L964.0,318.7 L969.0,265.0 L974.0,269.9 L979.0,284.3 L984.0,282.7 L989.0,289.4 L994.0,240.2 L999.0,263.6 L1004.0,327.1 L1009.0,338.8 L1014.0,319.5 L1019.0,316.2 L1024.0,323.7 L1029.0,330.8 L1034.0,318.7 L1039.0,277.0 L1044.0,251.0 L1049.0,230.3 L1054.0,212.3 L1059.0,196.4 L1064.0,197.9 L1069.0,196.2 L1074.0,201.0 L1079.0,219.0 L1084.0,231.1 L1089.0,241.2 L1094.0,254.8 L1099.0,252.0 L1104.0,259.1 L1109.0,254.5 L1114.0,250.4 L1119.0,266.3 L1124.0,237.3 L1129.0,239.5 L1134.0,257.1 L1139.0,261.6 L1144.0,283.3 L1149.0,296.0 L1154.0,282.0 L1159.0,307.7 L1164.0,304.3 L1169.0,313.6 L1174.0,305.2 L1179.0,323.6 L1184.0,321.1 L1189.0,353.6 L1194.0,376.0 L1199.0,369.0 L1204.0,380.2 L1209.0,389.4 L1214.0,382.7 L1219.0,384.9 L1224.0,370.8 L1229.0,365.8 L1234.0,378.2 L1239.0,384.4 L1244.0,404.5 L1249.0,398.6 L1254.0,409.5 L1259.0,407.0 L1264.0,404.5 L1269.0,410.4 L1274.0,420.4 L1279.0,426.0 L1284.0,436.0 L1289.0,427.6 L1294.0,438.5 L1299.0,441.0 L1304.0,447.2 L1309.0,439.3 L1314.0,435.6 L1319.0,445.6 L1324.0,466.7 L1329.0,472.6 L1334.0,477.3 L1339.0,476.8 L1344.0,489.3 L1349.0,491.0 L1354.0,489.0 L1359.0,488.5 L1364.0,493.5 L1369.0,491.0 L1374.0,493.5 L1379.0,488.5 L1384.0,492.7 L1389.0,498.5 L1394.0,498.9 L1399.0,498.9 L1404.0,498.7 L1409.0,504.4 L1414.0,511.0 L1419.0,511.1 L1424.0,513.4 L1429.0,515.3 L1434.0,516.1 L1439.0,520.5 L1444.0,521.0 L1449.0,518.6 L1454.0,504.1 L1459.0,501.1 L1464.0,501.1 L1469.0,502.7 L1474.0,499.0 L1479.0,496.0 L1484.0,496.0 L1489.0,508.6 L1494.0,508.6 L1499.0,508.6 L1504.0,506.1 L1509.0,506.6 L1514.0,508.6 L1519.0,506.6 L1524.0,505.7 L1529.0,503.6 L1534.0,499.4 L1539.0,498.9 L1544.0,502.7 L1549.0,501.1 L1554.0,500.7 L1559.0,502.7 L1564.0,507.8 L1569.0,510.3 L1574.0,510.8 L1579.0,509.4 L1584.0,498.5 L1589.0,494.4 L1594.0,490.2 L1599.0,483.5 L1604.0,476.8 L1609.0,473.9 L1614.0,473.9 L1619.0,462.9" fill="none" stroke="#ed7d31" stroke-width="2" stroke-linejoin="round" stroke-linecap="round"/>
<g font-family="Liberation Sans, sans-serif" font-size="16" fill="#000" stroke="#fff" stroke-width="0.25">
<text transform="translate(132.6,545.0) rotate(-45)" text-anchor="end">01-10-20</text>
<text transform="translate(167.6,545.0) rotate(-45)" text-anchor="end">08-10-20</text>
<text transform="translate(202.6,545.0) rotate(-45)" text-anchor="end">15-10-20</text>
<text transform="translate(237.6,545.0) rotate(-45)" text-anchor="end">22-10-20</text>
<text transform="translate(272.6,545.0) rotate(-45)" text-anchor="end">29-10-20</text>
<text transform="translate(307.6,545.0) rotate(-45)" text-anchor="end">05-11-20</text>
<text transform="translate(342.6,545.0) rotate(-45)" text-anchor="end">12-11-20</text>
<text transform="translate(377.6,545.0) rotate(-45)" text-anchor="end">19-11-20</text>
<text transform="translate(412.6,545.0) rotate(-45)" text-anchor="end">26-11-20</text>
<text transform="translate(447.6,545.0) rotate(-45)" text-anchor="end">03-12-20</text>
<text transform="translate(482.6,545.0) rotate(-45)" text-anchor="end">10-12-20</text>
<text transform="translate(517.6,545.0) rotate(-45)" text-anchor="end">17-12-20</text>
<text transform="translate(552.6,545.0) rotate(-45)" text-anchor="end">24-12-20</text>
<text transform="translate(587.6,545.0) rotate(-45)" text-anchor="end">31-12-20</text>
<text transform="translate(622.6,545.0) rotate(-45)" text-anchor="end">07-01-21</text>
<text transform="translate(657.6,545.0) rotate(-45)" text-anchor="end">14-01-21</text>
<text transform="translate(692.6,545.0) rotate(-45)" text-anchor="end">21-01-21</text>
<text transform="translate(727.6,545.0) rotate(-45)" text-anchor="end">28-01-21</text>
<text transform="translate(762.6,545.0) rotate(-45)" text-anchor="end">04-02-21</text>
<text transform="translate(797.6,545.0) rotate(-45)" text-anchor="end">11-02-21</text>
<text transform="translate(832.6,545.0) rotate(-45)" text-anchor="end">18-02-21</text>
<text transform="translate(867.6,545.0) rotate(-45)" text-anchor="end">25-02-21</text>
<text transform="translate(902.6,545.0) rotate(-45)" text-anchor="end">04-03-21</text>
<text transform="translate(937.6,545.0) rotate(-45)" text-anchor="end">11-03-21</text>
<text transform="translate(972.6,545.0) rotate(-45)" text-anchor="end">18-03-21</text>
<text transform="translate(1007.6,545.0) rotate(-45)" text-anchor="end">25-03-21</text>
<text transform="translate(1042.6,545.0) rotate(-45)" text-anchor="end">01-04-21</text>
<text transform="translate(1077.6,545.0) rotate(-45)" text-anchor="end">08-04-21</text>
<text transform="translate(1112.6,545.0) rotate(-45)" text-anchor="end">15-04-21</text>
<text transform="translate(1147.6,545.0) rotate(-45)" text-anchor="end">22-04-21</text>
<text transform="translate(1182.6,545.0) rotate(-45)" text-anchor="end">29-04-21</text>
<text transform="translate(1217.6,545.0) rotate(-45)" text-anchor="end">06-05-21</text>
<text transform="translate(1252.6,545.0) rotate(-45)" text-anchor="end">13-05-21</text>
<text transform="translate(1287.6,545.0) rotate(-45)" text-anchor="end">20-05-21</text>
<text transform="translate(1322.6,545.0) rotate(-45)" text-anchor="end">27-05-21</text>
<text transform="translate(1357.6,545.0) rotate(-45)" text-anchor="end">03-06-21</text>
<text transform="translate(1392.6,545.0) rotate(-45)" text-anchor="end">10-06-21</text>
<text transform="translate(1427.6,545.0) rotate(-45)" text-anchor="end">17-06-21</text>
<text transform="translate(1462.6,545.0) rotate(-45)" text-anchor="end">24-06-21</text>
<text transform="translate(1497.6,545.0) rotate(-45)" text-anchor="end">01-07-21</text>
<text transform="translate(1532.6,545.0) rotate(-45)" text-anchor="end">08-07-21</text>
<text transform="translate(1567.6,545.0) rotate(-45)" text-anchor="end">15-07-21</text>
<text transform="translate(1602.6,545.0) rotate(-45)" text-anchor="end">22-07-21</text>
<text transform="translate(1637.6,545.0) rotate(-45)" text-anchor="end">29-07-21</text>
</g>
</g>
</defs>
<rect x="0" y="0" width="1771" height="621" fill="#fff"/>
<g clip-path="url(#cl)"><use href="#plot"/></g>
<g clip-path="url(#cr)"><use href="#plot" x="-1"/></g>
<rect x="0" y="0" width="1771" height="1" fill="#cfcfcf"/>
<rect x="0" y="0" width="1" height="621" fill="#cfcfcf"/>
<g font-family="Liberation Sans, sans-serif" font-size="21.3" fill="#000" stroke="#fff" stroke-width="0.4">
<text x="107.0" y="530.8" text-anchor="end">0</text>
<text x="107.0" y="444.8" text-anchor="end">5</text>
<text x="107.0" y="357.8" text-anchor="end" textLength="23.9" lengthAdjust="spacingAndGlyphs">10</text>
<text x="107.0" y="271.8" text-anchor="end" textLength="23.9" lengthAdjust="spacingAndGlyphs">15</text>
<text x="107.0" y="185.8" text-anchor="end" textLength="23.9" lengthAdjust="spacingAndGlyphs">20</text>
<text x="107.0" y="99.8" text-anchor="end" textLength="23.9" lengthAdjust="spacingAndGlyphs">25</text>
<text x="1685.5" y="530.8">0</text>
<text x="1685.5" y="476.8">5</text>
<text x="1685.5" y="422.8" textLength="23.7" lengthAdjust="spacingAndGlyphs">10</text>
<text x="1685.5" y="368.8" textLength="23.7" lengthAdjust="spacingAndGlyphs">15</text>
<text x="1685.5" y="314.8" textLength="23.7" lengthAdjust="spacingAndGlyphs">20</text>
<text x="1685.5" y="261.8" textLength="23.7" lengthAdjust="spacingAndGlyphs">25</text>
<text x="1685.5" y="207.8" textLength="23.7" lengthAdjust="spacingAndGlyphs">30</text>
<text x="1685.5" y="153.8" textLength="23.7" lengthAdjust="spacingAndGlyphs">35</text>
<text x="1685.5" y="99.8" textLength="23.7" lengthAdjust="spacingAndGlyphs">40</text>
<text x="123.0" y="31.7" textLength="101.0" lengthAdjust="spacingAndGlyphs">Κρούσματα</text>
<text x="233.3" y="31.7" textLength="33.8" lengthAdjust="spacingAndGlyphs">ανά</text>
<text x="274.4" y="31.7" textLength="74.8" lengthAdjust="spacingAndGlyphs">100.000</text>
<text x="356.2" y="31.7" textLength="106.7" lengthAdjust="spacingAndGlyphs">(Κυλιόμενος</text>
<text x="470.3" y="31.7" textLength="53.1" lengthAdjust="spacingAndGlyphs">μέσος</text>
<text x="530.8" y="31.7" textLength="43.9" lengthAdjust="spacingAndGlyphs">όρος</text>
<text x="586.8" y="31.7" text-anchor="middle">7</text>
<text x="599.0" y="31.7" textLength="75.7" lengthAdjust="spacingAndGlyphs">ημερών)</text>
<text x="123.0" y="64.7" textLength="67.1" lengthAdjust="spacingAndGlyphs">Ρυθμός</text>
<text x="197.5" y="64.7" textLength="93.3" lengthAdjust="spacingAndGlyphs">μεταβολής</text>
<text x="297.6" y="64.7" textLength="110.6" lengthAdjust="spacingAndGlyphs">κρουσμάτων</text>
<text x="417.2" y="64.7" textLength="81.8" lengthAdjust="spacingAndGlyphs">μοντέλου</text>
<text x="506.4" y="64.7" textLength="60.4" lengthAdjust="spacingAndGlyphs">(7days</text>
<text x="573.1" y="64.7" textLength="64.1" lengthAdjust="spacingAndGlyphs">moving</text>
<text x="644.7" y="64.7" textLength="79.5" lengthAdjust="spacingAndGlyphs">average)</text>
<text x="944.2" y="31.7" textLength="45.6" lengthAdjust="spacingAndGlyphs">Όριο</text>
<text x="995.5" y="31.7" textLength="96.0" lengthAdjust="spacingAndGlyphs">μετάβασης</text>
<text x="1099.3" y="31.7" textLength="22.4" lengthAdjust="spacingAndGlyphs">σε</text>
<text x="1128.0" y="31.7" textLength="66.7" lengthAdjust="spacingAndGlyphs">κόκκινη</text>
<text x="1202.1" y="31.7" textLength="71.2" lengthAdjust="spacingAndGlyphs">περιοχή</text>
<text x="944.6" y="64.7" textLength="65.3" lengthAdjust="spacingAndGlyphs">Ρυθμός</text>
<text x="1018.0" y="64.7" textLength="93.1" lengthAdjust="spacingAndGlyphs">μεταβολής</text>
<text x="1117.9" y="64.7" textLength="146.8" lengthAdjust="spacingAndGlyphs">επιβεβαιωμένων</text>
<text x="1270.7" y="64.7" textLength="113.3" lengthAdjust="spacingAndGlyphs">κρουσμάτων</text>
<text x="1391.5" y="64.7" textLength="60.4" lengthAdjust="spacingAndGlyphs">(7days</text>
<text x="1457.9" y="64.7" textLength="65.0" lengthAdjust="spacingAndGlyphs">moving</text>
<text x="1529.8" y="64.7" textLength="80.1" lengthAdjust="spacingAndGlyphs">average)</text>
<g transform="translate(23.3,424.9) rotate(-90)">
<text x="-0.7" y="0" textLength="64.2" lengthAdjust="spacingAndGlyphs">Ρυθμός</text>
<text x="72.9" y="0" textLength="92.2" lengthAdjust="spacingAndGlyphs">μεταβολής</text>
<text x="173.1" y="0" textLength="111.6" lengthAdjust="spacingAndGlyphs">κρουσμάτων</text>
</g>
<g transform="translate(1754.6,399.0) rotate(-90)">
<text x="-0.7" y="0" textLength="101.7" lengthAdjust="spacingAndGlyphs">Κρούσματα</text>
<text x="109.4" y="0" textLength="33.1" lengthAdjust="spacingAndGlyphs">ανά</text>
<text x="152.5" y="0" textLength="71.8" lengthAdjust="spacingAndGlyphs">100.000</text>
</g>
</g>
<rect x="86" y="19" width="34" height="11.6" fill="#a5a5a5"/>
<line x1="85.3" y1="58" x2="120.8" y2="58" stroke="#4472c4" stroke-width="2"/>
<line x1="905.2" y1="58" x2="940.8" y2="58" stroke="#ed7d31" stroke-width="2"/>
<line x1="906" y1="25.3" x2="917.8" y2="25.3" stroke="#ff0000" stroke-width="3.9" stroke-linecap="round"/>
<line x1="933.8" y1="25.3" x2="940.4" y2="25.3" stroke="#ff0000" stroke-width="3.9" stroke-linecap="round"/>
</svg>
</body></html>
